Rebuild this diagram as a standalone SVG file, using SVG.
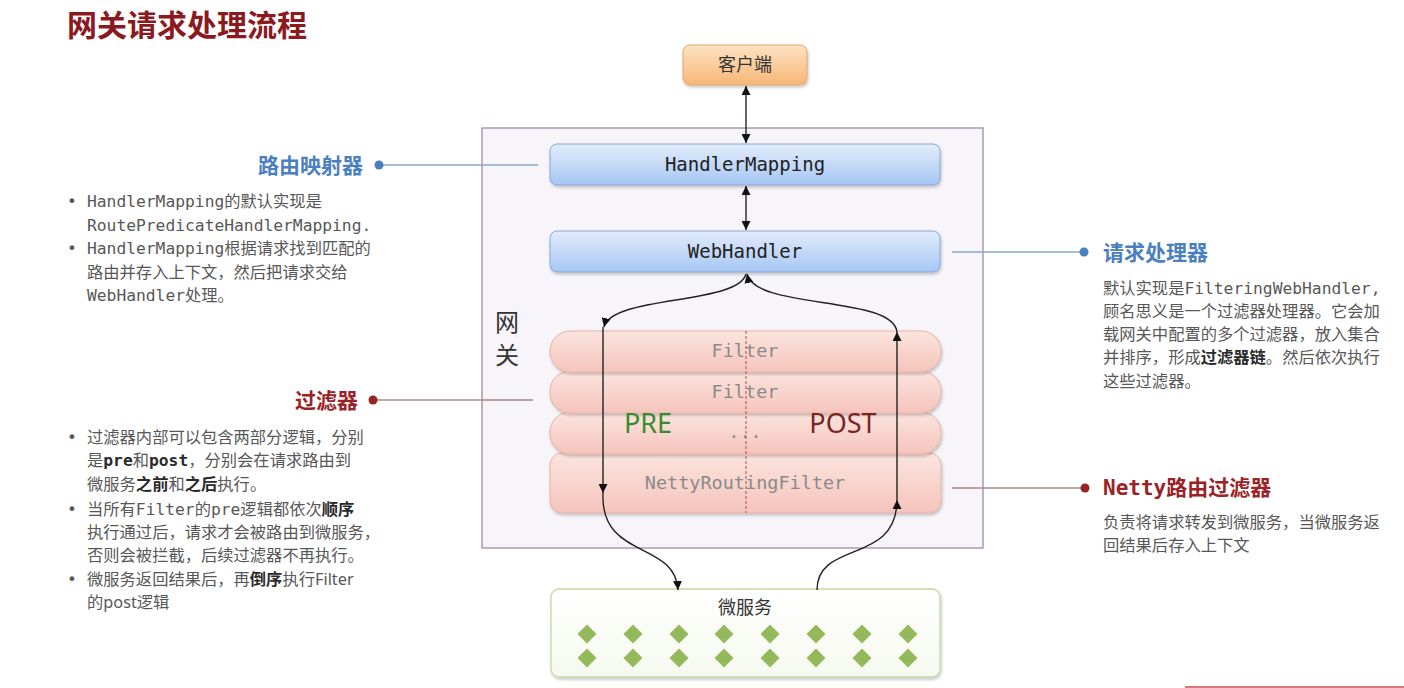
<svg xmlns="http://www.w3.org/2000/svg" width="1404" height="688" viewBox="0 0 1404 688">
<defs>
<style>
.title{font-family:"Noto Sans CJK SC",sans-serif;font-weight:bold;font-size:30px;fill:#8b1a1f}
.lblB{font-family:"Noto Sans CJK SC",sans-serif;font-weight:bold;font-size:21px;fill:#4a80c0}
.lblR{font-family:"DejaVu Sans Mono","Noto Sans CJK SC",monospace;font-weight:bold;font-size:21px;fill:#9b2226}
.body{font-family:"DejaVu Sans Mono","Noto Sans CJK SC",monospace;font-size:16.3px;fill:#575757}
.sans{font-family:"Noto Sans","Noto Sans CJK SC",sans-serif}
.b{font-weight:bold;fill:#2a2a2a}
.node{font-family:"DejaVu Sans Mono","Noto Sans CJK SC",monospace;font-size:19px;fill:#222;text-anchor:middle}
.cjk{font-family:"Noto Sans CJK SC",sans-serif;font-size:18px;fill:#333;text-anchor:middle}
.flt{font-family:"DejaVu Sans Mono",monospace;font-size:18.5px;fill:#8a8a8a;text-anchor:middle}
.big{font-family:"Noto Sans",sans-serif;font-size:27px}
.conn{fill:none;stroke:#222;stroke-width:1.4}
.frow{fill:url(#gFilter);stroke:#e6b2aa;stroke-width:1}
.dia{fill:#94b95b}
</style>
<linearGradient id="gOrange" x1="0" y1="0" x2="0" y2="1"><stop offset="0" stop-color="#fde3c4"/><stop offset="1" stop-color="#f7b676"/></linearGradient>
<linearGradient id="gBlue" x1="0" y1="0" x2="0" y2="1"><stop offset="0" stop-color="#e2ecfb"/><stop offset="1" stop-color="#a6c6f4"/></linearGradient>
<linearGradient id="gFilter" x1="0" y1="0" x2="0" y2="1"><stop offset="0" stop-color="#fbe5de"/><stop offset="1" stop-color="#f5c4bc"/></linearGradient>
<linearGradient id="gGreen" x1="0" y1="0" x2="0" y2="1"><stop offset="0" stop-color="#ffffff"/><stop offset="1" stop-color="#f6f9ef"/></linearGradient>
<filter id="sh" x="-10%" y="-20%" width="120%" height="150%"><feDropShadow dx="1" dy="2" stdDeviation="1.5" flood-color="#000" flood-opacity="0.22"/></filter>
<marker id="ah" viewBox="0 0 10 10" refX="10" refY="5" markerWidth="9" markerHeight="9" markerUnits="userSpaceOnUse" orient="auto-start-reverse"><path d="M0,0 L10,5 L0,10 z" fill="#111"/></marker>
<polygon id="dm" points="0,-9.5 9.5,0 0,9.5 -9.5,0"/>
</defs>

<rect width="1404" height="688" fill="#ffffff"/>

<text class="title" x="67" y="36">网关请求处理流程</text>

<g id="gateway">
<rect x="482" y="128" width="501" height="420" fill="#f7f5fa" stroke="#a08aa8" stroke-width="1.3"/>
<text x="507" y="331" style="font-family:'Noto Sans CJK SC',sans-serif;font-size:24px;fill:#333" text-anchor="middle">网</text>
<text x="507" y="364" style="font-family:'Noto Sans CJK SC',sans-serif;font-size:24px;fill:#333" text-anchor="middle">关</text>
</g>

<g id="client">
<rect x="683" y="45" width="124" height="40" rx="7" fill="url(#gOrange)" stroke="#e3a468" stroke-width="1" filter="url(#sh)"/>
<text class="cjk" x="745" y="71">客户端</text>
</g>

<g id="handlerMapping">
<rect x="550" y="144" width="390" height="41" rx="7" fill="url(#gBlue)" stroke="#86a7d6" stroke-width="1" filter="url(#sh)"/>
<text class="node" x="745" y="171">HandlerMapping</text>
</g>

<g id="webHandler">
<rect x="550" y="231" width="390" height="41" rx="7" fill="url(#gBlue)" stroke="#86a7d6" stroke-width="1" filter="url(#sh)"/>
<text class="node" x="745" y="258">WebHandler</text>
</g>

<g id="filters">
<rect class="frow" x="550" y="453" width="391" height="60" rx="12" filter="url(#sh)"/>
<rect class="frow" x="550" y="412" width="391" height="42" rx="20" filter="url(#sh)"/>
<rect class="frow" x="550" y="371" width="391" height="42" rx="20" filter="url(#sh)"/>
<rect class="frow" x="550" y="331" width="391" height="41" rx="20" filter="url(#sh)"/>
<line x1="746" y1="331" x2="746" y2="513" stroke="#b04848" stroke-width="1" stroke-dasharray="3,2"/>
<text class="flt" x="745" y="357">Filter</text>
<text class="flt" x="745" y="398">Filter</text>
<text class="flt" x="745" y="438">...</text>
<text class="flt" x="745" y="489">NettyRoutingFilter</text>
<text class="big" x="648" y="433" text-anchor="middle" fill="#3a8a2e">PRE</text>
<text class="big" x="843" y="433" text-anchor="middle" fill="#7a2424">POST</text>
</g>

<g id="microservice">
<rect x="551" y="589" width="389" height="88" rx="8" fill="url(#gGreen)" stroke="#c6d8a4" stroke-width="1.3" filter="url(#sh)"/>
<text class="cjk" x="745" y="614">微服务</text>
<g class="dia">
<use href="#dm" x="587" y="634"/><use href="#dm" x="633" y="634"/><use href="#dm" x="679" y="634"/><use href="#dm" x="724" y="634"/>
<use href="#dm" x="770" y="634"/><use href="#dm" x="816" y="634"/><use href="#dm" x="862" y="634"/><use href="#dm" x="908" y="634"/>
<use href="#dm" x="587" y="658"/><use href="#dm" x="633" y="658"/><use href="#dm" x="679" y="658"/><use href="#dm" x="724" y="658"/>
<use href="#dm" x="770" y="658"/><use href="#dm" x="816" y="658"/><use href="#dm" x="862" y="658"/><use href="#dm" x="908" y="658"/>
</g>
</g>

<g id="connectors">
<line class="conn" x1="746" y1="86" x2="746" y2="143" marker-start="url(#ah)" marker-end="url(#ah)"/>
<line class="conn" x1="746" y1="186" x2="746" y2="230" marker-start="url(#ah)" marker-end="url(#ah)"/>
<path class="conn" d="M746 274 C738 305 612 295 604 327" marker-end="url(#ah)"/>
<path class="conn" d="M603 327 L603 493" marker-end="url(#ah)"/>
<path class="conn" d="M603 493 C600 560 675 540 678 590" marker-end="url(#ah)"/>
<path class="conn" d="M817 590 C817 540 897 565 897 500" marker-end="url(#ah)"/>
<path class="conn" d="M897 500 L897 332" marker-end="url(#ah)"/>
<path class="conn" d="M897 332 C893 295 755 310 747 274" marker-end="url(#ah)"/>
</g>

<g id="label-mapping">
<line x1="380" y1="165" x2="538" y2="165" stroke="#8ca8c6" stroke-width="1.3"/>
<circle cx="379" cy="165" r="4.5" fill="#4a80c0"/>
<text class="lblB" x="363" y="173" text-anchor="end">路由映射器</text>
<g class="body">
<text x="67" y="207">•</text>
<text x="87" y="207">HandlerMapping的默认实现是</text>
<text x="87" y="230.5">RoutePredicateHandlerMapping.</text>
<text x="67" y="254">•</text>
<text x="87" y="254">HandlerMapping根据请求找到匹配的</text>
<text x="87" y="277.5">路由并存入上下文，然后把请求交给</text>
<text x="87" y="301">WebHandler处理。</text>
</g>
</g>

<g id="label-filter">
<line x1="374" y1="400" x2="533" y2="400" stroke="#b08686" stroke-width="1.3"/>
<circle cx="373" cy="400" r="4.5" fill="#9b2226"/>
<text class="lblR" x="358" y="408" text-anchor="end" style="font-family:'Noto Sans CJK SC',sans-serif">过滤器</text>
<g class="body">
<text x="67" y="443">•</text>
<text x="87" y="443">过滤器内部可以包含两部分逻辑，分别</text>
<text x="87" y="466">是<tspan class="b">pre</tspan>和<tspan class="b">post</tspan>，分别会在请求路由到</text>
<text x="87" y="490">微服务<tspan class="b">之前</tspan>和<tspan class="b">之后</tspan>执行。</text>
<text x="67" y="515">•</text>
<text x="87" y="515">当所有Filter的pre逻辑都依次<tspan class="b">顺序</tspan></text>
<text x="87" y="538">执行通过后，请求才会被路由到微服务，</text>
<text x="87" y="561">否则会被拦截，后续过滤器不再执行。</text>
<text x="67" y="585">•</text>
<text x="87" y="585">微服务返回结果后，再<tspan class="b">倒序</tspan>执行<tspan class="sans">Filter</tspan></text>
<text x="87" y="608" class="sans">的post逻辑</text>
</g>
</g>

<g id="label-webhandler">
<line x1="952" y1="252" x2="1083" y2="252" stroke="#8ca8c6" stroke-width="1.3"/>
<circle cx="1084" cy="252" r="4.5" fill="#4a80c0"/>
<text class="lblB" x="1103" y="260">请求处理器</text>
<g class="body">
<text x="1103" y="294">默认实现是FilteringWebHandler,</text>
<text x="1103" y="317">顾名思义是一个过滤器处理器。它会加</text>
<text x="1103" y="340">载网关中配置的多个过滤器，放入集合</text>
<text x="1103" y="363">并排序，形成<tspan class="b">过滤器链</tspan>。然后依次执行</text>
<text x="1103" y="387">这些过滤器。</text>
</g>
</g>

<g id="label-netty">
<line x1="952" y1="488" x2="1084" y2="488" stroke="#b08686" stroke-width="1.3"/>
<circle cx="1085" cy="488" r="4.5" fill="#9b2226"/>
<text class="lblR" x="1103" y="495">Netty路由过滤器</text>
<g class="body">
<text x="1103" y="528">负责将请求转发到微服务，当微服务返</text>
<text x="1103" y="551">回结果后存入上下文</text>
</g>
</g>

<line x1="1185" y1="687" x2="1404" y2="687" stroke="#d77a78" stroke-width="2"/>
</svg>
